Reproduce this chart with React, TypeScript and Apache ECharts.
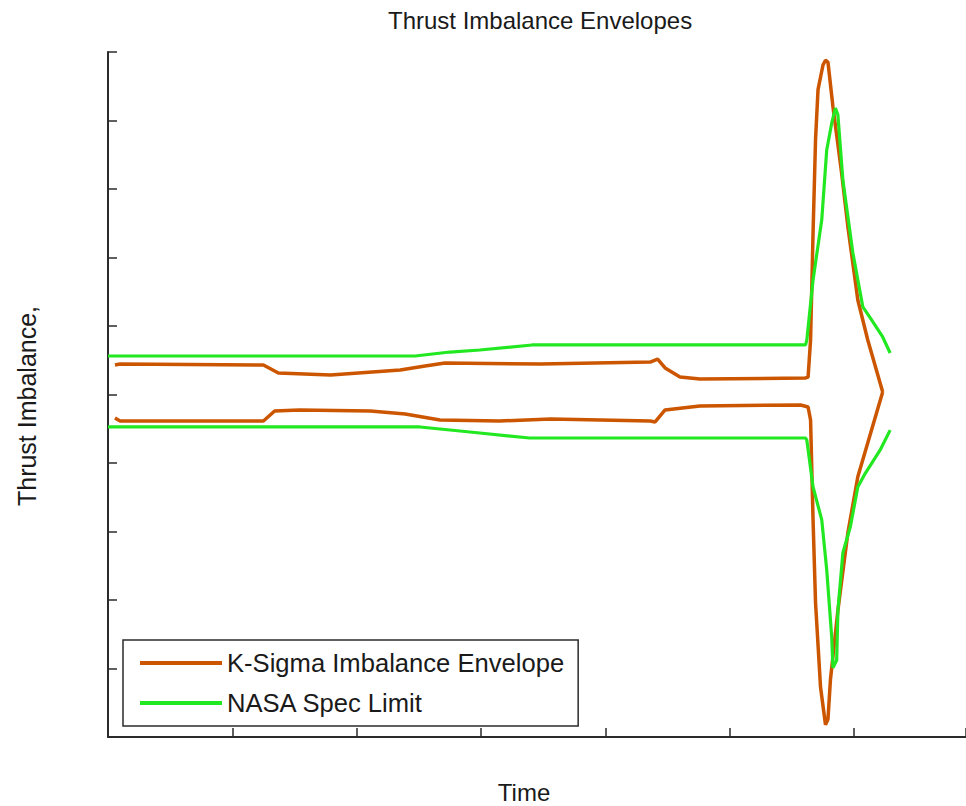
import React, { useEffect, useRef } from "react";
import * as echarts from "echarts";

// [time, imbalance] pairs
const kSigmaUpper: [number, number][] = [
  [0.56, 0.43], [0.97, 0.445], [12.5, 0.43], [13.7, 0.314], [17.9, 0.285], [23.5, 0.358],
  [25.5, 0.416], [27.1, 0.46], [34.8, 0.445], [43.6, 0.474], [44.2, 0.518], [44.8, 0.387],
  [46.0, 0.255], [47.6, 0.226], [56.1, 0.241], [56.3, 0.255], [56.5, 0.796], [56.7, 2.36],
  [56.9, 3.72], [57.1, 4.45], [57.5, 4.81], [57.7, 4.88], [57.9, 4.85], [58.3, 4.2],
  [59.0, 3.23], [59.5, 2.45], [60.3, 1.38], [61.1, 0.796], [62.3, 0.036],
];
const kSigmaLower: [number, number][] = [
  [0.56, -0.343], [0.97, -0.387], [12.5, -0.387], [13.4, -0.241], [15.4, -0.226], [21.1, -0.241],
  [23.9, -0.285], [26.7, -0.372], [31.5, -0.387], [35.6, -0.358], [43.6, -0.387], [44.0, -0.401],
  [44.8, -0.226], [47.6, -0.168], [55.7, -0.153], [56.3, -0.182], [56.5, -0.372], [56.7, -1.83],
  [56.9, -3.04], [57.3, -4.27], [57.7, -4.82], [57.9, -4.74], [58.1, -4.16], [58.7, -3.15],
  [59.5, -2.02], [60.3, -1.2], [62.3, 0.036],
];
const nasaUpper: [number, number][] = [
  [0, 0.562], [24.7, 0.562], [27.5, 0.62], [29.9, 0.65], [34.1, 0.723], [56.1, 0.723],
  [56.2, 0.796], [56.7, 1.672], [57.4, 2.55], [57.8, 3.57], [58.2, 3.96], [58.5, 4.18],
  [58.7, 4.08], [59.1, 3.13], [59.9, 2.07], [60.7, 1.28], [61.3, 1.12], [62.3, 0.84], [62.9, 0.606],
];
const nasaLower: [number, number][] = [
  [0, -0.474], [25.1, -0.474], [29.9, -0.562], [33.9, -0.635], [56.1, -0.635], [56.2, -0.664],
  [56.7, -1.35], [57.4, -1.83], [57.8, -2.56], [58.2, -3.54], [58.3, -3.99], [58.6, -3.88],
  [58.7, -3.15], [59.1, -2.31], [59.7, -1.93], [60.3, -1.35], [60.9, -1.15], [62.1, -0.81], [62.9, -0.52],
];

const seriesNames = ["K-Sigma Imbalance Envelope", "NASA Spec Limit"];
const titleText = "Thrust Imbalance Envelopes";
const xLabel = "Time";
const yLabel = "Thrust Imbalance,";

const ORANGE = "#CC5500";
const GREEN = "#22E822";
const AXIS = "#2b2b2b";
const FONT = "'Liberation Sans', Arial, sans-serif";

export default function App() {
  const ref = useRef<HTMLDivElement>(null);
  useEffect(() => {
    if (!ref.current) return;
    const chart = echarts.init(ref.current, null, { renderer: "svg" });
    const line = (name: string, data: [number, number][], color: string, width: number) => ({
      type: "line",
      name,
      data,
      symbol: "none",
      showSymbol: false,
      lineStyle: { color, width },
      itemStyle: { color },
      z: color === GREEN ? 3 : 2,
    });
    chart.setOption({
      animation: false,
      backgroundColor: "#ffffff",
      grid: { left: 108, top: 52, right: 0, bottom: 69 },
      xAxis: {
        type: "value",
        min: 0,
        max: 69,
        interval: 10,
        axisLine: { show: true, onZero: false, lineStyle: { color: AXIS, width: 2 } },
        axisTick: { show: true, inside: true, length: 9, lineStyle: { color: AXIS, width: 1.5 } },
        axisLabel: { show: false },
        splitLine: { show: false },
      },
      yAxis: {
        type: "value",
        min: -5,
        max: 5,
        interval: 1,
        axisLine: { show: true, onZero: false, lineStyle: { color: AXIS, width: 2 } },
        axisTick: { show: true, inside: true, length: 9, lineStyle: { color: AXIS, width: 1.5 } },
        axisLabel: { show: false },
        splitLine: { show: false },
      },
      legend: {
        data: seriesNames,
        orient: "vertical",
        left: 123,
        top: 640,
        backgroundColor: "#ffffff",
        borderColor: AXIS,
        borderWidth: 1.5,
        borderRadius: 0,
        padding: [10, 14, 10, 15],
        itemWidth: 82,
        itemHeight: 25,
        itemGap: 14,
        itemStyle: { opacity: 0 },
        lineStyle: { width: 4 },
        textStyle: { fontFamily: FONT, fontSize: 25.6, color: "#1a1a1a", lineHeight: 25 },
        selectedMode: false,
      },
      graphic: [
        {
          type: "text",
          left: 540 - 152,
          top: 8,
          style: { text: titleText, fontFamily: FONT, fontSize: 24, fill: "#1a1a1a" },
        },
        {
          type: "text",
          x: 524,
          y: 792,
          style: {
            text: xLabel, fontFamily: FONT, fontSize: 24, fill: "#1a1a1a",
            textAlign: "center", textVerticalAlign: "middle",
          },
        },
        {
          type: "text",
          x: 27,
          y: 406,
          rotation: Math.PI / 2,
          style: {
            text: yLabel, fontFamily: FONT, fontSize: 25, fill: "#1a1a1a",
            textAlign: "center", textVerticalAlign: "middle",
          },
        },
      ],
      series: [
        line(seriesNames[0], kSigmaUpper, ORANGE, 3.5),
        line(seriesNames[0], kSigmaLower, ORANGE, 3.5),
        line(seriesNames[1], nasaUpper, GREEN, 3.2),
        line(seriesNames[1], nasaLower, GREEN, 3.2),
      ],
    });
    return () => chart.dispose();
  }, []);
  return (
    <div
      ref={ref}
      style={{ position: "absolute", left: 0, top: 0, width: 966, height: 806, background: "#fff" }}
    />
  );
}
